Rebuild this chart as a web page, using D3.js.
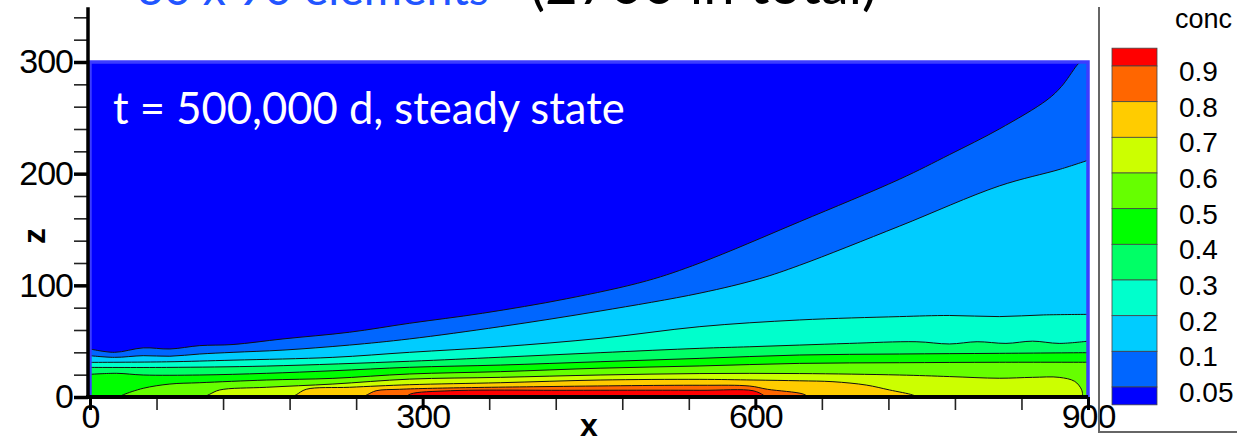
<!DOCTYPE html>
<html>
<head>
<meta charset="utf-8">
<script src="https://cdn.jsdelivr.net/npm/d3@7"></script>
<style>
body { margin: 0; background: #fff; }
svg { display: block; }
</style>
</head>
<body>
<script>
// contour levels of conc, colours of the bands (lowest band first)
var levels = [0.05, 0.1, 0.2, 0.3, 0.4, 0.5, 0.6, 0.7, 0.8, 0.9];
var legendLabels = ["0.9", "0.8", "0.7", "0.6", "0.5", "0.4", "0.3", "0.2", "0.1", "0.05"];
var bandColors = ["#0000ff", "#0066ff", "#00ccff", "#00ffcc", "#00ff66", "#00ff00",
                  "#66ff00", "#ccff00", "#ffcc00", "#ff6600", "#ff0000"];

// axis ticks
var xTicks = [0, 300, 600, 900];
var zTicks = [0, 100, 200, 300];

// contour lines, as [x, z]
var c005 = [[0, 43], [22, 40], [48, 44], [72, 43], [99, 46], [129, 47], [174, 52], [234, 58], [288, 66],
            [354, 75], [430, 88], [502, 104], [550, 120], [640, 157], [730, 195], [775, 217],
            [820, 240], [863, 266], [876, 278], [890, 297], [893, 300]];
var c01 = [[0, 37], [22, 35.5], [48, 37], [72, 36.5], [99, 38.5], [129, 40], [174, 42], [234, 46.5],
           [288, 52], [370, 63], [460, 77], [550, 93], [604, 106], [640, 118], [730, 153],
           [820, 189], [875, 204], [900, 212]];
var c02 = [[0, 31], [69, 31.5], [129, 33], [219, 35.5], [288, 40], [370, 45], [460, 52.5], [550, 63],
           [640, 69], [730, 72], [775, 73], [820, 72], [860, 73.5], [900, 74]];
var c03 = [[0, 26.5], [69, 26.5], [159, 27.7], [288, 32], [370, 35.6], [460, 39.7], [550, 43.6],
           [595, 45], [640, 46.5], [685, 48], [745, 49.5], [775, 47.5], [800, 49.5], [826, 48],
           [850, 50], [874, 48], [900, 50]];
var c04 = [[0, 20.3], [24, 21.2], [48, 19.7], [99, 19.7], [159, 21.2], [219, 23.5], [288, 26.6],
           [370, 28.6], [460, 31.6], [550, 34.6], [640, 37.6], [730, 38.5], [820, 39.1], [900, 39.7]];
var c05 = [[26, 0], [30, 2], [48, 7.8], [72, 11.6], [99, 12.8], [159, 15.2], [219, 16.7], [288, 20.6],
           [370, 22.7], [460, 25.8], [550, 27.8], [640, 30.1], [730, 30.7], [820, 31.1], [900, 31.1]];
var c06 = [[103, 0], [108, 2.5], [117, 6.3], [159, 8.7], [219, 11.6], [288, 16], [370, 17.6],
           [460, 19.7], [550, 21], [640, 21], [730, 19.7], [775, 18.3], [820, 16.8], [850, 17.6],
           [874, 17.6], [888, 14], [894, 7], [895, 2], [894, 0]];
var c07 = [[182, 0], [186, 2], [195, 6.9], [234, 8.7], [288, 11], [370, 12.8], [460, 15.2], [550, 15.8],
           [598, 15.2], [640, 14.5], [670, 13.7], [700, 10.7], [721, 6.3], [742, 1.8], [746, 0]];
var c08 = [[246, 0], [250, 2], [258, 5.6], [279, 6.9], [309, 7.8], [400, 9.2], [550, 10.5], [595, 9.8],
           [611, 6.9], [643, 2.7], [648, 0]];
var c09 = [[285, 0], [289, 2.7], [325, 5.6], [430, 6], [550, 6], [598, 5.6], [607, 1.8], [609, 0]];

var contourLines = [c005, c01, c02, c03, c04, c05, c06, c07, c08, c09];

var width = 1237, height = 442;
var svg = d3.select("body").append("svg")
    .attr("width", width)
    .attr("height", height);

// scales
var x = d3.scaleLinear().domain([0, 900]).range([90, 1088]);
var y = d3.scaleLinear().domain([0, 300]).range([397, 62]);

// shrink or grow a text so that it takes the given width
function fitText(sel, w) {
    var len = sel.node().getComputedTextLength();
    var fs = parseFloat(sel.style("font-size"));
    sel.style("font-size", (fs * w / len) + "px");
}

// title, cut off at the top of the picture
var titleBlue = svg.append("text")
    .attr("x", 137).attr("y", 5)
    .attr("fill", "#2255ff")
    .style("font-family", "Lato, 'Open Sans', sans-serif")
    .style("font-size", "46px")
    .text("30 x 90 elements");
fitText(titleBlue, 352);
var titleBlack = svg.append("text")
    .attr("x", 530).attr("y", 4)
    .attr("fill", "#000")
    .style("font-family", "Lato, 'Open Sans', sans-serif")
    .style("font-size", "46px")
    .text("(2700 in total)");
fitText(titleBlack, 347);

// plot area
svg.append("clipPath").attr("id", "plotclip")
    .append("rect")
    .attr("x", x(0)).attr("y", y(300))
    .attr("width", x(900) - x(0)).attr("height", y(0) - y(300));

var plot = svg.append("g").attr("clip-path", "url(#plotclip)");

plot.append("rect")
    .attr("x", x(0)).attr("y", y(300))
    .attr("width", x(900) - x(0)).attr("height", y(0) - y(300))
    .attr("fill", bandColors[0]);

var line = d3.line()
    .curve(d3.curveCatmullRom.alpha(0.5))
    .x(function (d) { return x(d[0]); })
    .y(function (d) { return y(d[1]); });

// close a contour line down to the bottom so the band below it can be filled
function closedPath(pts) {
    var extra = [];
    var last = pts[pts.length - 1], first = pts[0];
    if (last[1] >= 300) extra.push([900, 300]);
    if (last[1] > 0) extra.push([900, 0]);
    if (first[1] > 0) extra.push([0, 0]);
    var d = line(pts);
    extra.forEach(function (p) { d += "L" + x(p[0]) + "," + y(p[1]); });
    return d + "Z";
}

// filled bands, each higher level painted over the one before
contourLines.forEach(function (pts, i) {
    plot.append("path")
        .attr("d", closedPath(pts))
        .attr("fill", bandColors[i + 1]);
});

// contour lines
contourLines.forEach(function (pts) {
    plot.append("path")
        .attr("d", line(pts))
        .attr("fill", "none")
        .attr("stroke", "#111")
        .attr("stroke-width", 1);
});

// blue frame of the domain
svg.append("rect")
    .attr("x", x(0)).attr("y", y(300))
    .attr("width", x(900) - x(0)).attr("height", y(0) - y(300))
    .attr("fill", "none")
    .attr("stroke", "#3c3cff")
    .attr("stroke-width", 3.5);

// annotation
var note = svg.append("text")
    .attr("x", 113)
    .attr("y", 124)
    .attr("fill", "#fff")
    .style("font-family", "Lato, 'Open Sans', sans-serif")
    .style("font-size", "40px")
    .text("t = 500,000 d, steady state");
fitText(note, 512);

// y axis: minor and major ticks
var yMinor = svg.append("g")
    .attr("transform", "translate(" + (x(0) - 2) + ",0)")
    .call(d3.axisLeft(y).tickValues(d3.range(0, 341, 20)).tickSize(14).tickFormat(""));
yMinor.select(".domain").remove();
yMinor.selectAll("line").attr("stroke", "#222").attr("stroke-width", 1.6);

var yMajor = svg.append("g")
    .attr("transform", "translate(" + (x(0) - 2) + ",0)")
    .call(d3.axisLeft(y).tickValues(zTicks).tickSize(14).tickPadding(1));
yMajor.select(".domain").remove();
yMajor.selectAll("line").attr("stroke", "#000").attr("stroke-width", 3.5);
yMajor.selectAll("text")
    .style("font-family", "'Liberation Sans', Arial, sans-serif")
    .style("font-size", "34px")
    .style("letter-spacing", "-1px")
    .attr("fill", "#000");

svg.append("line")
    .attr("x1", x(0) - 2).attr("x2", x(0) - 2)
    .attr("y1", y(349)).attr("y2", y(0) + 2)
    .attr("stroke", "#000").attr("stroke-width", 3.5);

// x axis
var xMinor = svg.append("g")
    .attr("transform", "translate(0," + y(0) + ")")
    .call(d3.axisBottom(x).tickValues(d3.range(0, 901, 60)).tickSize(13).tickFormat(""));
xMinor.select(".domain").remove();
xMinor.selectAll("line").attr("stroke", "#222").attr("stroke-width", 1.6);

var xMajor = svg.append("g")
    .attr("transform", "translate(0," + y(0) + ")")
    .call(d3.axisBottom(x).tickValues(xTicks).tickSize(13));
xMajor.select(".domain").remove();
xMajor.selectAll("line").attr("stroke", "#000").attr("stroke-width", 3);
xMajor.selectAll("text")
    .attr("y", 7)
    .style("font-family", "'Liberation Sans', Arial, sans-serif")
    .style("font-size", "34px")
    .style("letter-spacing", "-1px")
    .attr("fill", "#000");

svg.append("line")
    .attr("x1", x(0) - 4).attr("x2", x(900))
    .attr("y1", y(0)).attr("y2", y(0))
    .attr("stroke", "#000").attr("stroke-width", 4);

// axis titles
svg.append("text")
    .attr("x", 589).attr("y", 436)
    .attr("text-anchor", "middle")
    .style("font-family", "'Liberation Sans', Arial, sans-serif")
    .style("font-size", "32px")
    .style("font-weight", "bold")
    .text("x");

svg.append("text")
    .attr("transform", "translate(45,236) rotate(-90)")
    .attr("text-anchor", "middle")
    .style("font-family", "'Liberation Sans', Arial, sans-serif")
    .style("font-size", "32px")
    .style("font-weight", "bold")
    .text("z");

// legend frame
svg.append("path")
    .attr("d", "M1099,7 V432 H1237")
    .attr("fill", "none")
    .attr("stroke", "#666")
    .attr("stroke-width", 2);

// colour legend
var cb = d3.scalePoint().domain(legendLabels).range([66, 387]);
var half = cb.step() / 2;
var bandTops = [cb(legendLabels[0]) - half].concat(legendLabels.map(function (l) { return cb(l); }));
var bandBottoms = legendLabels.map(function (l) { return cb(l); }).concat([cb(legendLabels[legendLabels.length - 1]) + half]);

var legend = svg.append("g");
bandTops.forEach(function (t, i) {
    legend.append("rect")
        .attr("x", 1112).attr("y", t)
        .attr("width", 45).attr("height", bandBottoms[i] - t)
        .attr("fill", bandColors[bandColors.length - 1 - i])
        .attr("stroke", "#444")
        .attr("stroke-width", 0.8);
});

legend.selectAll(".lab")
    .data(legendLabels)
    .enter().append("text")
    .attr("class", "lab")
    .attr("x", 1179)
    .attr("y", function (d) { return cb(d) + 15; })
    .style("font-family", "'Liberation Sans', Arial, sans-serif")
    .style("font-size", "28px")
    .text(function (d) { return d; });

svg.append("text")
    .attr("x", 1175).attr("y", 28)
    .style("font-family", "'Liberation Sans', Arial, sans-serif")
    .style("font-size", "27px")
    .text("conc");
</script>
</body>
</html>
